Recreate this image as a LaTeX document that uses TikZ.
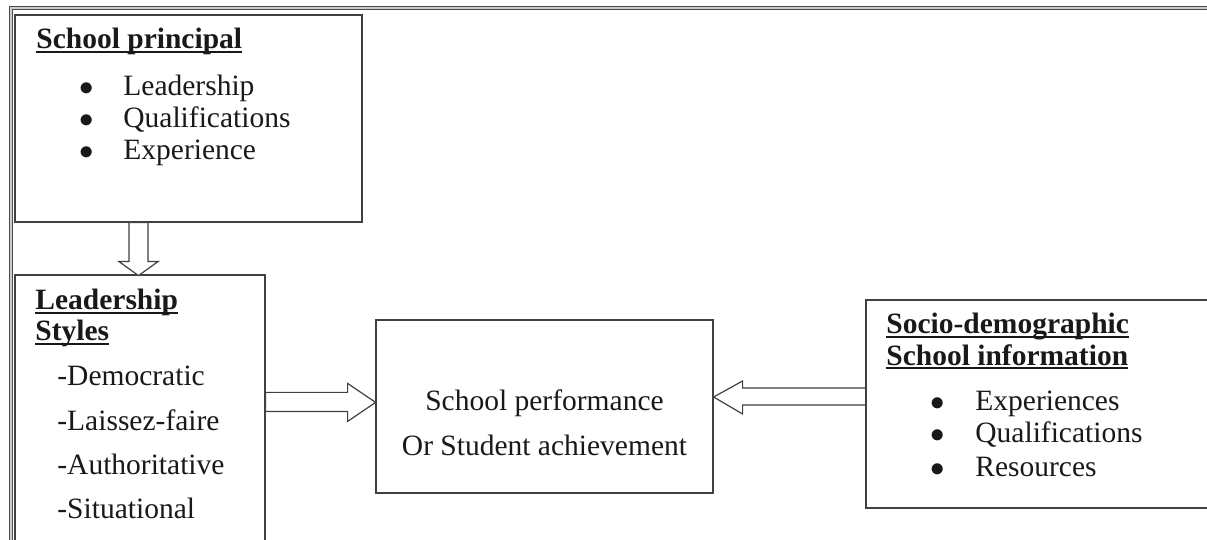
\documentclass[tikz,border=0pt]{standalone}
\usepackage{fontspec}
\setmainfont{Liberation Serif}
\usetikzlibrary{calc}

% bold heading with a close underline
\newcommand{\ulhead}[1]{\setbox0=\hbox{\textbf{#1}}\rlap{\rule[-2pt]{\wd0}{1pt}}\box0}
% list bullet
\newcommand{\blt}[1]{\makebox[#1][l]{$\bullet$}}

\begin{document}
\begin{tikzpicture}[
    x=0.5pt, y=-0.5pt,
    box/.style={rectangle, draw=black!75, line width=0.6pt, fill=white},
    txt/.style={anchor=base west, inner sep=0pt, font=\fontsize{14.75}{17}\selectfont, text=black!90},
    ctxt/.style={anchor=base, inner sep=0pt, font=\fontsize{14.75}{17}\selectfont, text=black!90},
    hollow/.style={draw=black!75, line width=0.6pt, fill=white, line join=miter},
    frame/.style={draw=black!70, line width=0.5pt, double=black!20, double distance=0.8pt}
]

\useasboundingbox (0,0) rectangle (1207,540);

% Cornice
\draw[frame] (11,545) -- (11,8) -- (1212,8);

% Riquadri
\node[box, minimum width=173.5pt, minimum height=103.5pt] (principal) at (188.5,118.5) {};
\node[box, minimum width=125pt, minimum height=136.5pt] (styles) at (140,411.5) {};
\node[box, minimum width=168.5pt, minimum height=86.5pt] (perf) at (544.5,406.5) {};
\node[box, minimum width=174.5pt, minimum height=104pt] (socio) at (1040.5,404) {};

% Testi: dirigente
\node[txt] (ptitle) at (36,49) {\ulhead{School principal}};
\node[txt] (p1) at (79,96) {\blt{22pt}Leadership};
\node[txt] (p2) at (79,128) {\blt{22pt}Qualifications};
\node[txt] (p3) at (79,160) {\blt{22pt}Experience};

% Testi: stili
\node[txt] (stitle1) at (35,310) {\ulhead{Leadership}};
\node[txt] (stitle2) at (35,341) {\ulhead{Styles}};
\node[txt] (s1) at (57,386) {-Democratic};
\node[txt] (s2) at (57,430) {-Laissez-faire};
\node[txt] (s3) at (57,474) {-Authoritative};
\node[txt] (s4) at (57,518) {-Situational};

% Testi: risultato
\node[ctxt] (perf1) at (544.5,410) {School performance};
\node[ctxt] (perf2) at (544.5,455) {Or Student achievement};

% Testi: informazioni
\node[txt] (otitle1) at (886,334) {\ulhead{Socio-demographic}};
\node[txt] (otitle2) at (886,365) {\ulhead{School information}};
\node[txt] (o1) at (930,410) {\blt{22.5pt}Experiences};
\node[txt] (o2) at (930,443) {\blt{22.5pt}Qualifications};
\node[txt] (o3) at (930,476) {\blt{22.5pt}Resources};

% Frecce vuote
\draw[hollow] ($(principal.south)+(-59.5,0)$) -- ++(0,39) -- ++(-10,0) -- ++(19.5,14)
    -- ++(19.5,-14) -- ++(-10,0) -- ++(0,-39) -- cycle;
\draw[hollow] ($(styles.north east)+(0,118)$) -- ++(82,0) -- ++(0,-9) -- ++(28,19)
    -- ++(-28,19) -- ++(0,-10) -- ++(-82,0) -- cycle;
\draw[hollow] ($(perf.east)+(0,-9.5)$) -- ++(29,-16) -- ++(0,7) -- ++(123,0)
    -- ++(0,17) -- ++(-123,0) -- ++(0,9) -- cycle;

\end{tikzpicture}
\end{document}
